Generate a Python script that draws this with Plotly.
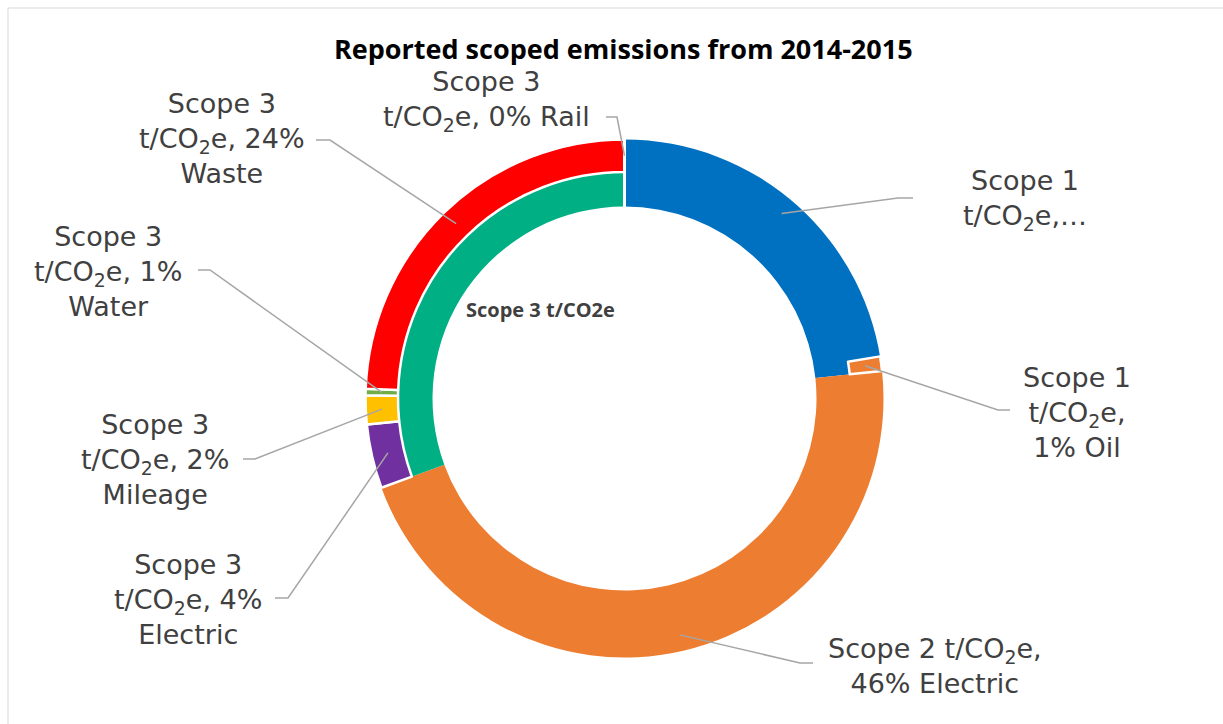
import math
import plotly.graph_objects as go

W, H = 1223, 724

# ---------------- data ----------------
categories = ["Gas", "Oil", "Electric", "Electric", "Mileage", "Water", "Waste", "Rail"]
scope_of = ["Scope 1", "Scope 1", "Scope 2", "Scope 3", "Scope 3", "Scope 3", "Scope 3", "Scope 3"]
shares = [22.4, 0.9, 46.1, 4.0, 1.8, 0.4, 24.4, 0.0]
label_texts = [
    "Scope 1<br>t/CO<sub>2</sub>e,…",
    "Scope 1<br>t/CO<sub>2</sub>e,<br>1% Oil",
    "Scope 2 t/CO<sub>2</sub>e,<br>46% Electric",
    "Scope 3<br>t/CO<sub>2</sub>e, 4%<br>Electric",
    "Scope 3<br>t/CO<sub>2</sub>e, 2%<br>Mileage",
    "Scope 3<br>t/CO<sub>2</sub>e, 1%<br>Water",
    "Scope 3<br>t/CO<sub>2</sub>e, 24%<br>Waste",
    "Scope 3<br>t/CO<sub>2</sub>e, 0% Rail",
]
inner_groups = ["Scope 1", "Scope 2", "Scope 3"]
inner_series_name = "Scope 3 t/CO2e"
title_text = "Reported scoped emissions from 2014-2015"

# ---------------- styles / layout ----------------
outer_colors = ["#0070C0", "#ED7D31", "#ED7D31", "#7030A0", "#FFC000", "#70AD47", "#FF0000", "#A5A5A5"]
inner_colors = ["#0070C0", "#ED7D31", "#00B084"]
CLEAR = "rgba(0,0,0,0)"
cx, cy = 624.5, 398.5          # pixel centre
R_OUT, R_MID, R_IN = 259.0, 226.5, 192.0
TXT = "#404040"
LEAD = "#A6A6A6"
LABEL_FONT = dict(family="DejaVu Sans", size=27, color=TXT)
label_pos = [(1025, 200), (1077, 412), (935, 666), (188, 599), (155, 459), (108, 272), (222, 138), (486, 101)]
elbows = [((898, 198), (913, 198)), ((998, 410), (1010, 410)), ((800, 663), (813, 663)),
          ((288, 598), (275, 598)), ((255, 459), (243, 459)), ((210, 270), (198, 270)),
          ((330, 140), (316, 140)), ((617, 117), (606, 117))]


def px(x):
    return x / W


def py(y):
    return 1 - y / H


domain = dict(x=[px(cx - R_OUT), px(cx + R_OUT)], y=[py(cy + R_OUT), py(cy - R_OUT)])

inner_values = [sum(s for s, g in zip(shares, scope_of) if g == grp) for grp in inner_groups]

fig = go.Figure()
# full-thickness ring (scope totals): blue and orange span both rings, green shows in the inner ring
fig.add_trace(go.Pie(
    values=inner_values, labels=inner_groups, name=inner_series_name,
    sort=False, direction="clockwise", rotation=0, hole=R_IN / R_OUT,
    domain=domain, textinfo="none", hoverinfo="skip", showlegend=False,
    marker=dict(colors=inner_colors, line=dict(color="white", width=0)),
))
# outer ring: detailed categories
outer_fill = []
outer_lw = []
for i, c in enumerate(outer_colors):
    if categories[i] == "Gas" or scope_of[i] == "Scope 2" or shares[i] == 0:
        outer_fill.append(CLEAR)
        outer_lw.append(0)
    else:
        outer_fill.append(c)
        outer_lw.append(2.5)
fig.add_trace(go.Pie(
    values=shares, labels=[f"{s} {c}" for s, c in zip(scope_of, categories)],
    sort=False, direction="clockwise", rotation=0, hole=R_MID / R_OUT,
    domain=domain, textinfo="none", hoverinfo="skip", showlegend=False,
    marker=dict(colors=outer_fill, line=dict(color="white", width=outer_lw)),
))

total = sum(shares)
shapes = []
annotations = []

# white separator at the start of the first slice (between Scope 1 and Scope 3)
a0 = 0.0
shapes.append(dict(type="line", xref="paper", yref="paper",
                   x0=px(cx + (R_IN - 1) * math.sin(a0)), y0=py(cy - (R_IN - 1) * math.cos(a0)),
                   x1=px(cx + (R_OUT + 1) * math.sin(a0)), y1=py(cy - (R_OUT + 1) * math.cos(a0)),
                   line=dict(color="white", width=3), layer="above"))

# leader lines and labels
cum = 0.0
r_anchor = (R_OUT + R_MID) / 2
for i, s in enumerate(shares):
    mid = (cum + s / 2) / total * 2 * math.pi
    cum += s
    ax = cx + r_anchor * math.sin(mid)
    ay = cy - r_anchor * math.cos(mid)
    (ex, ey), (hx, hy) = elbows[i]
    path = f"M {px(ax)},{py(ay)} L {px(ex)},{py(ey)} L {px(hx)},{py(hy)}"
    shapes.append(dict(type="path", xref="paper", yref="paper", path=path,
                       line=dict(color=LEAD, width=1.5), layer="above"))
    tx, ty = label_pos[i]
    annotations.append(dict(x=px(tx), y=py(ty), xref="paper", yref="paper",
                            text=label_texts[i], showarrow=False, align="center",
                            xanchor="center", yanchor="middle", font=LABEL_FONT))

annotations.append(dict(x=px(623), y=py(48), xref="paper", yref="paper",
                        text=f"<b>{title_text}</b>", showarrow=False,
                        xanchor="center", yanchor="middle",
                        font=dict(family="Open Sans", size=27, color="black")))
annotations.append(dict(x=px(540), y=py(309), xref="paper", yref="paper",
                        text=f"<b>{inner_series_name}</b>", showarrow=False,
                        xanchor="center", yanchor="middle",
                        font=dict(family="Open Sans", size=20, color=TXT)))

shapes.append(dict(type="rect", xref="paper", yref="paper",
                   x0=px(8), y0=py(8), x1=1.02, y1=-0.02,
                   line=dict(color="#D9D9D9", width=1), layer="below"))

fig.update_layout(width=W, height=H, margin=dict(l=0, r=0, t=0, b=0),
                  paper_bgcolor="white", plot_bgcolor="white",
                  showlegend=False, shapes=shapes, annotations=annotations)

fig.write_html("out.html", config={"displayModeBar": False},
               post_script="document.body.style.margin='0px';")
